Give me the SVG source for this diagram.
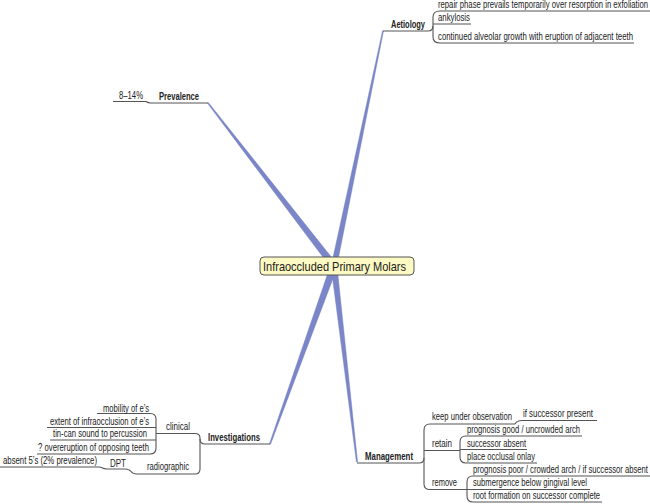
<svg xmlns="http://www.w3.org/2000/svg" width="650" height="504" viewBox="0 0 650 504">
<style>
.t{font-family:"Liberation Sans",Arial,sans-serif;font-size:10px;fill:#222}
.b{font-weight:bold}
.ln{fill:none;stroke:#555;stroke-width:1.1}
.tp{fill:#7b86c9;stroke:#6d78bd;stroke-width:0.4}
</style>
<rect width="650" height="504" fill="#fff"/>
<g id="connectors">
<polygon class="tp" points="207.53,103.37 208.47,102.63 336.77,263.86 331.23,268.14"/>
<polygon class="tp" points="382.51,30.90 383.49,31.10 336.74,266.57 331.26,265.43"/>
<polygon class="tp" points="269.44,443.80 270.56,444.20 337.29,267.18 330.71,264.82"/>
<polygon class="tp" points="356.40,462.07 357.60,461.93 336.98,265.65 331.02,266.35"/>
<path class="ln" d="M383,31 H428 Q433,31 433,26"/>
<path class="ln" d="M650,11 H440 Q433,11 433,17 V37 Q433,43 440,43 H634"/>
<path class="ln" d="M433,24 H471"/>
<path class="ln" d="M208,103 H151 Q148,103 146,101.5 H113"/>
<path class="ln" d="M270,444 H205 Q200,444 200,439"/>
<path class="ln" d="M156,433.5 H195 Q200,433.5 200,438 V469 Q200,474 195,474 H137 Q133,474 131,471.5 Q129,469 125,469 H107 Q104,469 102,467.8 Q101,467 99,467 H0"/>
<path class="ln" d="M97,413.5 H150 Q156,413.5 156,419 V448 Q156,454 150,454 H37"/>
<path class="ln" d="M47,427.5 H156 M50,440 H156"/>
<path class="ln" d="M357,463 H419 Q424,463 424,458"/>
<path class="ln" d="M515,424 H430 Q424,424 424,430 V484 Q424,489.5 430,489.5 H467"/>
<path class="ln" d="M597,420.5 H522 Q517,420.5 515,424"/>
<path class="ln" d="M424,450.5 H460"/>
<path class="ln" d="M582,436 H466 Q460,436 460,442 V457 Q460,463 466,463 H537"/>
<path class="ln" d="M460,449.5 H527"/>
<path class="ln" d="M650,476 H473 Q467,476 467,482 V496 Q467,502 473,502 H602"/>
<path class="ln" d="M467,489.5 H590"/>
</g>
<g id="center">
<rect x="260" y="257" width="154" height="18" rx="4" fill="#fcf9c2" stroke="#555" stroke-width="1"/>
<text class="t" x="263" y="271" style="font-size:13px" textLength="143" lengthAdjust="spacingAndGlyphs">Infraoccluded Primary Molars</text>
</g>
<g id="aetiology">
<text class="t b" x="391" y="28" textLength="34" lengthAdjust="spacingAndGlyphs">Aetiology</text>
</g>
<g id="aet-repair"><text class="t" x="438" y="7.5" textLength="210" lengthAdjust="spacingAndGlyphs">repair phase prevails temporarily over resorption in exfoliation</text></g>
<g id="aet-ankylosis"><text class="t" x="438" y="21" textLength="32" lengthAdjust="spacingAndGlyphs">ankylosis</text></g>
<g id="aet-growth"><text class="t" x="438" y="39.5" textLength="195" lengthAdjust="spacingAndGlyphs">continued alveolar growth with eruption of adjacent teeth</text></g>
<g id="prevalence">
<text class="t b" x="159" y="99.5" textLength="40" lengthAdjust="spacingAndGlyphs">Prevalence</text>
</g>
<g id="prev-value"><text class="t" x="119" y="98.5" textLength="24" lengthAdjust="spacingAndGlyphs">8–14%</text></g>
<g id="investigations">
<text class="t b" x="208" y="440.5" textLength="52" lengthAdjust="spacingAndGlyphs">Investigations</text>
</g>
<g id="inv-clinical"><text class="t" x="166" y="430" textLength="24" lengthAdjust="spacingAndGlyphs">clinical</text></g>
<g id="inv-mobility"><text class="t" x="103" y="411.5" textLength="46" lengthAdjust="spacingAndGlyphs">mobility of e’s</text></g>
<g id="inv-extent"><text class="t" x="50" y="424.5" textLength="99" lengthAdjust="spacingAndGlyphs">extent of infraocclusion of e’s</text></g>
<g id="inv-tincan"><text class="t" x="53" y="437" textLength="94" lengthAdjust="spacingAndGlyphs">tin-can sound to percussion</text></g>
<g id="inv-overeruption"><text class="t" x="38" y="451" textLength="111" lengthAdjust="spacingAndGlyphs">? overeruption of opposing teeth</text></g>
<g id="inv-radiographic"><text class="t" x="147" y="470" textLength="42" lengthAdjust="spacingAndGlyphs">radiographic</text></g>
<g id="inv-dpt"><text class="t" x="110" y="466.5" textLength="16" lengthAdjust="spacingAndGlyphs">DPT</text></g>
<g id="inv-absent"><text class="t" x="3" y="463.5" textLength="94" lengthAdjust="spacingAndGlyphs">absent 5’s (2% prevalence)</text></g>
<g id="management">
<text class="t b" x="365" y="459.5" textLength="48" lengthAdjust="spacingAndGlyphs">Management</text>
</g>
<g id="man-keep"><text class="t" x="432" y="419.5" textLength="80" lengthAdjust="spacingAndGlyphs">keep under observation</text></g>
<g id="man-ifpresent"><text class="t" x="523" y="417" textLength="70" lengthAdjust="spacingAndGlyphs">if successor present</text></g>
<g id="man-retain"><text class="t" x="432" y="446.5" textLength="20" lengthAdjust="spacingAndGlyphs">retain</text></g>
<g id="man-good"><text class="t" x="467" y="433" textLength="113" lengthAdjust="spacingAndGlyphs">prognosis good / uncrowded arch</text></g>
<g id="man-absent"><text class="t" x="467" y="446.5" textLength="59" lengthAdjust="spacingAndGlyphs">successor absent</text></g>
<g id="man-onlay"><text class="t" x="467" y="459.5" textLength="68" lengthAdjust="spacingAndGlyphs">place occlusal onlay</text></g>
<g id="man-remove"><text class="t" x="432" y="486" textLength="25" lengthAdjust="spacingAndGlyphs">remove</text></g>
<g id="man-poor"><text class="t" x="473" y="473" textLength="175" lengthAdjust="spacingAndGlyphs">prognosis poor / crowded arch / if successor absent</text></g>
<g id="man-submergence"><text class="t" x="473" y="486" textLength="114" lengthAdjust="spacingAndGlyphs">submergence below gingival level</text></g>
<g id="man-root"><text class="t" x="473" y="499" textLength="127" lengthAdjust="spacingAndGlyphs">root formation on successor complete</text></g>
</svg>
